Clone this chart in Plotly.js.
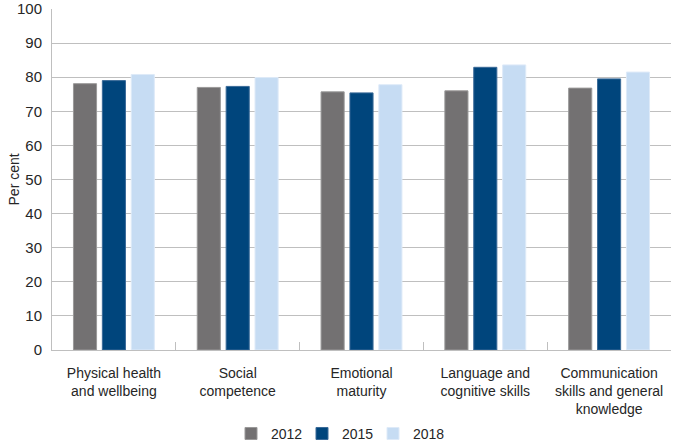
<!DOCTYPE html>
<html>
<head>
<meta charset="utf-8">
<script src="https://cdn.plot.ly/plotly-3.0.1.min.js"></script>
<style>html,body{margin:0;padding:0;background:#fff;}#chart{width:675px;height:446px;}</style>
</head>
<body>
<div id="chart"></div>
<script>
const categories = [
  "Physical health<br>and wellbeing",
  "Social<br>competence",
  "Emotional<br>maturity",
  "Language and<br>cognitive skills",
  "Communication<br>skills and general<br>knowledge"
];
const seriesNames = ["2012", "2015", "2018"];
const values2012 = [78.1, 77.0, 75.7, 76.0, 76.8];
const values2015 = [79.0, 77.3, 75.4, 82.9, 79.5];
const values2018 = [80.8, 79.9, 77.8, 83.6, 81.5];
const yTicks = [0, 10, 20, 30, 40, 50, 60, 70, 80, 90, 100];
const yTitle = "Per cent";

const colors = ["#737172", "#00457c", "#c6dcf3"];
const edgeColors = ["#9a9999", "#3a6a98", "#deeaf8"];
const allValues = [values2012, values2015, values2018];

const traces = allValues.map((vals, i) => ({
  type: "bar",
  name: seriesNames[i],
  x: categories,
  y: vals,
  marker: { color: colors[i], line: { color: edgeColors[i], width: 1 } },
  hoverinfo: "skip"
}));

const font = { family: "Liberation Sans, Arial, sans-serif", size: 14, color: "#262626" };
const yfont = { family: "Liberation Sans, Arial, sans-serif", size: 15, color: "#262626" };

const layout = {
  width: 675,
  height: 446,
  margin: { l: 52, r: 4, t: 9, b: 96, autoexpand: false },
  paper_bgcolor: "#ffffff",
  plot_bgcolor: "#ffffff",
  font: font,
  barmode: "group",
  bargap: 0.3,
  bargroupgap: 0.2,
  showlegend: true,
  legend: {
    orientation: "h",
    xref: "container",
    x: 0.5, xanchor: "center",
    y: -0.246, yanchor: "middle",
    font: font,
    itemwidth: 30,
    entrywidth: 26,
    entrywidthmode: "pixels",
    traceorder: "normal"
  },
  annotations: [{
    text: yTitle,
    textangle: -90,
    xref: "paper", yref: "paper",
    x: -0.0614, y: 0.5,
    xanchor: "center", yanchor: "middle",
    showarrow: false,
    font: font
  }],
  xaxis: {
    type: "category",
    showline: true,
    linecolor: "#bfbfbf",
    linewidth: 1,
    ticks: "inside",
    tickson: "boundaries",
    ticklen: 8,
    tickcolor: "#bfbfbf",
    ticklabelstandoff: 10,
    showgrid: false,
    tickfont: font,
    automargin: false
  },
  yaxis: {
    range: [0, 100],
    tickvals: yTicks,
    ticktext: yTicks.map(String),
    showline: true,
    linecolor: "#bfbfbf",
    linewidth: 1,
    showgrid: true,
    gridcolor: "#bfbfbf",
    gridwidth: 1,
    zeroline: false,
    ticks: "outside",
    ticklen: 6,
    tickcolor: "rgba(0,0,0,0)",
    tickfont: yfont,
    automargin: false
  }
};

Plotly.newPlot("chart", traces, layout, { displayModeBar: false, staticPlot: true });
</script>
</body>
</html>
